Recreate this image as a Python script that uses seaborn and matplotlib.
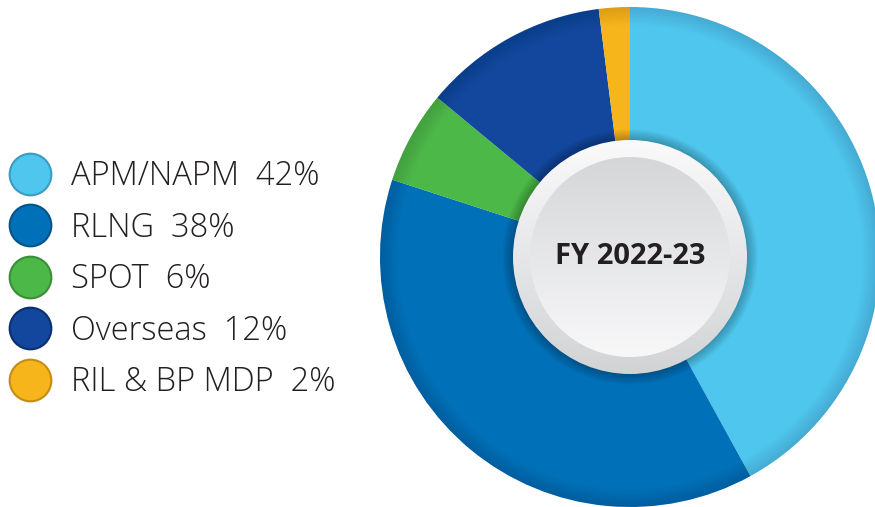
import numpy as np
import matplotlib.pyplot as plt
import matplotlib.patches as mpatches
from matplotlib.lines import Line2D
import seaborn as sns

# Gas sourcing mix, FY 2022-23
sources = ["APM/NAPM", "RLNG", "SPOT", "Overseas", "RIL & BP MDP"]
shares = [42, 38, 6, 12, 2]
colors = ["#4FC6EE", "#0070B8", "#4CB848", "#12479D", "#F7B51C"]
edge_colors = ["#3A9CC0", "#005488", "#3A8F36", "#0B2F70", "#C48D10"]
center_label = "FY 2022-23"

sns.set_theme(style="white")
plt.rcParams['font.family'] = ['Open Sans', 'DejaVu Sans']

fig = plt.figure(figsize=(8.75, 5.07), dpi=100)
fig.patch.set_facecolor("white")

# donut axes: centre around (630, 257) px, radius 250 px
ax = fig.add_axes([380 / 875, 0, 500 / 875, 500 / 507])

palette = sns.color_palette(colors)
ax.pie(shares, colors=palette, startangle=90, counterclock=False, radius=1.0,
       wedgeprops=dict(edgecolor="none", linewidth=0))
ax.set_xlim(-1, 1)
ax.set_ylim(-1, 1)
ax.set_aspect("equal")
ax.axis("off")

# slightly darker rim toward outer edge
for r in np.linspace(0.93, 1.0, 10):
    ax.add_patch(mpatches.Wedge((0, 0), 1.0, 0, 360, width=1.0 - r,
                                facecolor="black", edgecolor="none", alpha=0.012))

# soft shadow behind the centre disc
for r in np.linspace(0.51, 0.47, 8):
    ax.add_patch(mpatches.Circle((0, 0), r, facecolor="black", edgecolor="none", alpha=0.035))


def gradient_disc(radius, top, bottom):
    grad = np.linspace(0, 1, 256).reshape(-1, 1)
    c_top = np.array(plt.matplotlib.colors.to_rgb(top))
    c_bot = np.array(plt.matplotlib.colors.to_rgb(bottom))
    img = c_top + (c_bot - c_top) * grad[..., None]
    im = ax.imshow(img, extent=(-radius, radius, -radius, radius), origin="upper",
                   aspect="auto", zorder=5)
    clip = mpatches.Circle((0, 0), radius, transform=ax.transData)
    im.set_clip_path(clip)


gradient_disc(0.468, "#FAFAFB", "#D2D3D5")
gradient_disc(0.40, "#D5D6D8", "#F8F8F9")
ax.set_xlim(-1, 1)
ax.set_ylim(-1, 1)

ax.text(0, 0.0, center_label, ha="center", va="center", fontsize=21,
        fontweight="bold", color="#231F20", zorder=10)

# legend
handles = [Line2D([0], [0], marker="o", linestyle="none", markersize=30,
                  markerfacecolor=c, markeredgecolor=e, markeredgewidth=1.5)
           for c, e in zip(colors, edge_colors)]
labels = [f"{s}  {v}%" for s, v in zip(sources, shares)]
leg = fig.legend(handles, labels, loc="center left", bbox_to_anchor=(0.005, 0.449),
                 frameon=False, fontsize=23.5, labelcolor="#231F20",
                 handletextpad=0.45, labelspacing=0.55, borderaxespad=0.0,
                 handlelength=1.6, borderpad=0.0)
for t in leg.get_texts():
    t.set_fontweight("light")

fig.savefig("out.png", dpi=100, facecolor="white")
